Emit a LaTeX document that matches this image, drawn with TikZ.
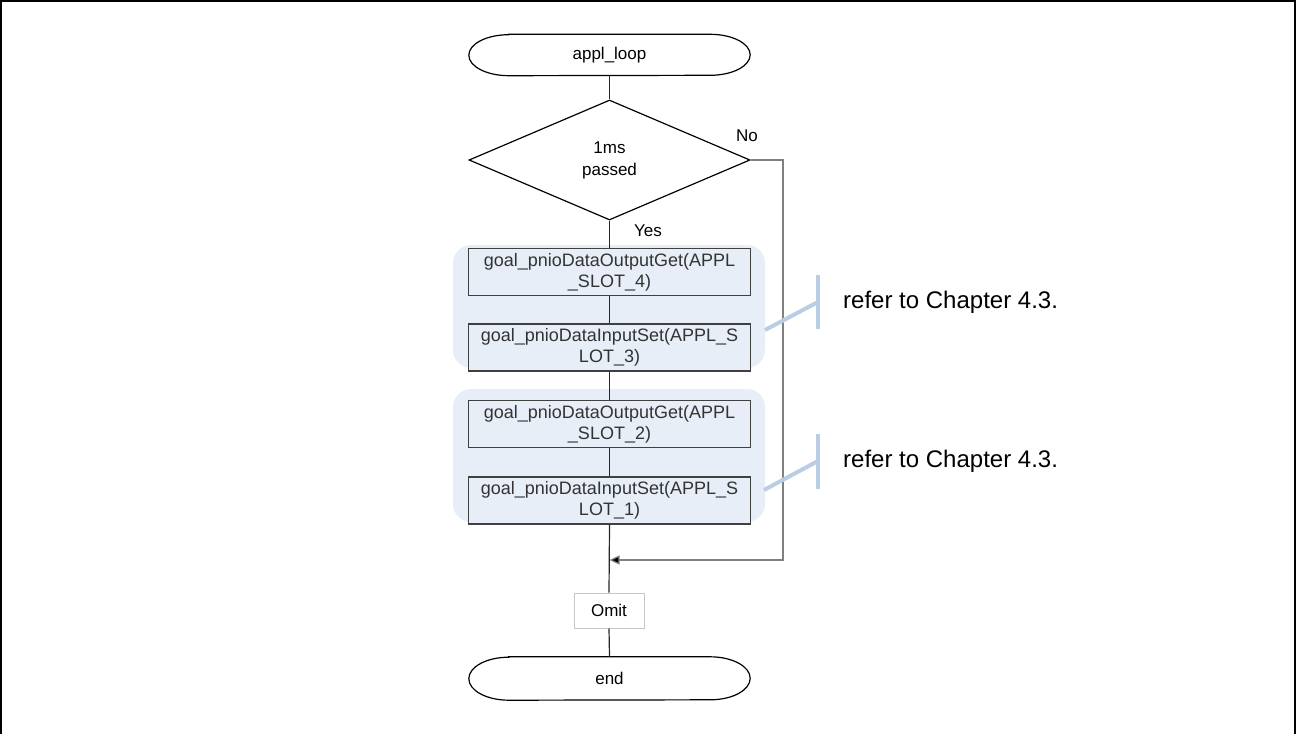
\documentclass[tikz,border=0pt]{standalone}
\usepackage{fontspec}
\setmainfont{Liberation Sans}
\usetikzlibrary{shapes.geometric,arrows.meta,calc}
\definecolor{grp}{HTML}{E8EEF7}
\definecolor{callc}{HTML}{B9CDE5}
\definecolor{boxline}{HTML}{404040}
\definecolor{txt}{HTML}{333333}
\tikzset{
  fc/.style={font=\fontsize{17}{20}\selectfont, text=txt},
  term/.style={fc, text=black, minimum width=281pt, inner sep=0pt},
  proc/.style={font=\fontsize{18}{21}\selectfont, text=txt, draw=boxline, line width=1.3pt, fill=grp, minimum width=282pt, minimum height=47pt, inner sep=0pt, align=center},
  conn/.style={draw=black!85, line width=1.2pt},
  grpbg/.style={fill=grp, draw=none, rounded corners=18pt},
  callout/.style={draw=callc, line width=4pt},
  reftext/.style={font=\fontsize{24}{27}\selectfont, anchor=west, inner sep=0pt}
}
\begin{document}
\begin{tikzpicture}[x=1pt,y=-1pt]
\useasboundingbox (0,0) rectangle (1297,733);
% frame
\draw[line width=2pt] (1,734) -- (1,1) -- (1295,1) -- (1295,734);

% groups
\fill[grpbg] (453,245) rectangle (765,368);
\fill[grpbg] (453,389) rectangle (765,522);

% nodes
\node[term, minimum height=41pt] (start) at (609.5,55) {appl\_loop};
\draw[line width=1.2pt] ([xshift=40pt]start.north west) -- ([xshift=-40pt]start.north east)
  arc[start angle=90,end angle=-90,x radius=40pt,y radius=20.5pt]
  -- ([xshift=40pt]start.south west)
  arc[start angle=270,end angle=90,x radius=40pt,y radius=20.5pt] -- cycle;

\node[diamond, draw=black, line width=1.2pt, fc, text=black, minimum width=281pt, minimum height=120pt, inner sep=0pt, aspect=2.34, align=center] (dia) at (609.5,160) {1ms\\[2pt]passed};

\node[proc] (b1) at (609.5,272) {goal\_pnioDataOutputGet(APPL\\\_SLOT\_4)};
\node[proc] (b2) at (609.5,347.5) {goal\_pnioDataInputSet(APPL\_S\\LOT\_3)};
\node[proc] (b3) at (609.5,424) {goal\_pnioDataOutputGet(APPL\\\_SLOT\_2)};
\node[proc] (b4) at (609.5,500.5) {goal\_pnioDataInputSet(APPL\_S\\LOT\_1)};

\node[fc, text=black, draw=black!22, line width=1pt, minimum width=70pt, minimum height=35pt, inner sep=0pt] (omit) at (609,610.5) {Omit};

\node[term, minimum height=43pt] (endn) at (609.5,678.5) {end};
\draw[line width=1.2pt] ([xshift=40pt]endn.north west) -- ([xshift=-40pt]endn.north east)
  arc[start angle=90,end angle=-90,x radius=40pt,y radius=21.5pt]
  -- ([xshift=40pt]endn.south west)
  arc[start angle=270,end angle=90,x radius=40pt,y radius=21.5pt] -- cycle;

% connectors
\draw[conn] (start.south) -- (dia.north);
\draw[conn] (dia.south) -- (b1.north);
\draw[conn] (b1.south) -- (b2.north);
\draw[conn] (b2.south) -- (b3.north);
\draw[conn] (b3.south) -- (b4.north);
\draw[conn] (b4.south) -- (omit.north);
\draw[conn] (omit.south) -- (endn.north);

\coordinate (merge) at (609.5,560);
\draw[draw=black!50, line width=1.2pt, -{Triangle[length=10pt,width=9pt,fill=black]}] (dia.east) -- (783,160) -- (783,560) -- (merge);

\node[fc, text=black, inner sep=0pt] (no) at (747,136) {No};
\node[fc, text=black, inner sep=0pt] (yes) at (648,231) {Yes};

% callouts
\coordinate (c1a) at (765,330);
\coordinate (c1b) at (818,302);
\draw[callout] (c1a) -- (c1b);
\draw[callout] (818,275) -- (818,329);
\node[reftext] (r1) at (843,302) {refer to Chapter 4.3.};

\coordinate (c2a) at (764,490);
\coordinate (c2b) at (818,461);
\draw[callout] (c2a) -- (c2b);
\draw[callout] (818,434) -- (818,489);
\node[reftext] (r2) at (843,461) {refer to Chapter 4.3.};
\end{tikzpicture}
\end{document}
